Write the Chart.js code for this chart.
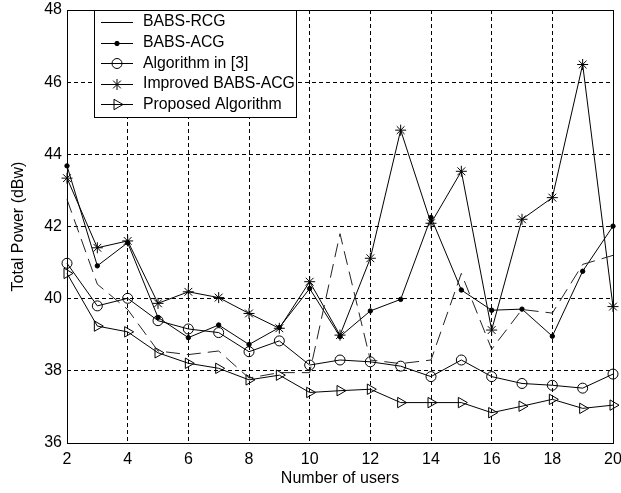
<!doctype html>
<html>
<head>
<meta charset="utf-8">
<script src="https://cdn.jsdelivr.net/npm/chart.js@4.4.1/dist/chart.umd.min.js"></script>
<style>
  body { margin: 0; background: #fff; }
  canvas { display: block; }
</style>
</head>
<body>
<canvas id="chart" width="621" height="493"></canvas>
<script>
// number of users (x axis)
var users = [2, 3, 4, 5, 6, 7, 8, 9, 10, 11, 12, 13, 14, 15, 16, 17, 18, 19, 20];

// total power in dBw
var babsRcg     = [42.75, 40.4, 39.7, 38.55, 38.45, 38.55, 37.8, 37.95, 37.95, 41.8, 38.3, 38.2, 38.3, 40.7, 38.6, 39.7, 39.6, 40.95, 41.2];
var babsAcg     = [43.68, 40.91, 41.55, 39.48, 38.92, 39.27, 38.73, 39.2, 40.28, 38.95, 39.66, 39.98, 42.25, 40.24, 39.68, 39.71, 38.96, 40.76, 42.01];
var algoIn3     = [40.98, 39.8, 40.01, 39.39, 39.16, 39.06, 38.53, 38.83, 38.16, 38.3, 38.25, 38.13, 37.84, 38.3, 37.84, 37.65, 37.6, 37.52, 37.91];
var improvedAcg = [43.34, 41.41, 41.6, 39.87, 40.19, 40.03, 39.59, 39.18, 40.47, 38.99, 41.12, 44.67, 42.09, 43.53, 39.13, 42.2, 42.8, 46.49, 39.78];
var proposed    = [40.7, 39.24, 39.08, 38.5, 38.21, 38.07, 37.75, 37.88, 37.4, 37.45, 37.49, 37.12, 37.12, 37.12, 36.84, 37.02, 37.21, 36.96, 37.05];

var yTicks = [36, 38, 40, 42, 44, 46, 48];
var xTicks = [2, 4, 6, 8, 10, 12, 14, 16, 18, 20];

var FONT = "'Liberation Sans', Arial, sans-serif";

function pts(arr) {
    return users.map(function (u, i) { return { x: u, y: arr[i] }; });
}

function series(label, arr, extra) {
    var ds = {
        label: label,
        data: pts(arr),
        borderColor: '#000',
        backgroundColor: 'rgba(0,0,0,0)',
        borderWidth: 1,
        pointBorderColor: '#000',
        pointBorderWidth: 1,
        pointRadius: 0,
        pointStyle: 'circle',
        pointRotation: 0,
        tension: 0,
        clip: false
    };
    for (var k in extra) ds[k] = extra[k];
    return ds;
}

var datasets = [
    series('BABS-RCG', babsRcg, { borderDash: [14, 7], borderColor: '#222', pointRadius: 0 }),
    series('BABS-ACG', babsAcg, { pointRadius: 2.2, pointBackgroundColor: '#000' }),
    series('Algorithm in [3]', algoIn3, { pointRadius: 5 }),
    series('Improved BABS-ACG', improvedAcg, { pointStyle: 'star', pointRadius: 5.5 }),
    series('Proposed Algorithm', proposed, { pointStyle: 'triangle', pointRotation: 90, pointRadius: 6 })
];

// box around the plot, like matlab
var boxPlugin = {
    id: 'box',
    afterDatasetsDraw: function (chart) {
        var a = chart.chartArea, ctx = chart.ctx;
        ctx.save();
        ctx.strokeStyle = '#000';
        ctx.lineWidth = 1;
        ctx.setLineDash([]);
        ctx.strokeRect(Math.round(a.left) + 0.5, Math.round(a.top) + 0.5,
            Math.round(a.right - a.left), Math.round(a.bottom - a.top));
        ctx.restore();
    }
};

// legend sitting inside the axes, top left
var legendPlugin = {
    id: 'innerLegend',
    afterDraw: function (chart) {
        var ctx = chart.ctx;
        var x0 = 94, y0 = chart.chartArea.top, w = 202, h = 107;
        ctx.save();
        ctx.fillStyle = '#fff';
        ctx.fillRect(x0, y0, w, h);
        ctx.strokeStyle = '#000';
        ctx.lineWidth = 1;
        ctx.strokeRect(x0 + 0.5, Math.round(y0) + 0.5, w, h);
        chart.data.datasets.forEach(function (ds, i) {
            var y = y0 + 12 + i * 20.6;
            ctx.strokeStyle = '#000';
            ctx.lineWidth = 1;
            ctx.setLineDash([]);
            ctx.beginPath();
            ctx.moveTo(101, Math.round(y) + 0.5);
            ctx.lineTo(133, Math.round(y) + 0.5);
            ctx.stroke();
            if (ds.pointRadius > 0) {
                ctx.fillStyle = ds.pointBackgroundColor || 'rgba(0,0,0,0)';
                ctx.strokeStyle = '#000';
                Chart.helpers.drawPoint(ctx, {
                    pointStyle: ds.pointStyle,
                    radius: ds.pointRadius,
                    rotation: ds.pointRotation,
                    borderWidth: 1
                }, 117, Math.round(y) + 0.5);
            }
            ctx.fillStyle = '#000';
            ctx.font = '15.8px ' + FONT;
            ctx.textBaseline = 'middle';
            ctx.textAlign = 'left';
            ctx.fillText(ds.label, 143, y);
        });
        ctx.restore();
    }
};

new Chart(document.getElementById('chart'), {
    type: 'line',
    data: { datasets: datasets },
    plugins: [boxPlugin, legendPlugin],
    options: {
        responsive: false,
        animation: false,
        layout: { padding: { top: 10, left: 0, right: 0, bottom: 0 } },
        plugins: {
            legend: { display: false },
            tooltip: { enabled: false }
        },
        scales: {
            x: {
                type: 'linear',
                min: 2,
                max: 20,
                afterBuildTicks: function (s) { s.ticks = xTicks.map(function (v) { return { value: v }; }); },
                afterFit: function (s) { s.height = 50; s.paddingLeft = 0; s.paddingRight = 8; },
                ticks: { color: '#000', padding: 7, font: { family: FONT, size: 16 } },
                grid: { color: '#000', lineWidth: 1, drawTicks: false },
                border: { display: false, dash: [4, 3] },
                title: {
                    display: true,
                    text: 'Number of users',
                    color: '#000',
                    font: { family: FONT, size: 16 },
                    padding: { top: 0, bottom: 5 }
                }
            },
            y: {
                min: 36,
                max: 48,
                afterBuildTicks: function (s) { s.ticks = yTicks.map(function (v) { return { value: v }; }); },
                afterFit: function (s) { s.width = 67; s.paddingTop = 10; s.paddingBottom = 0; },
                ticks: { color: '#000', padding: 5, font: { family: FONT, size: 16 } },
                grid: { color: '#000', lineWidth: 1, drawTicks: false },
                border: { display: false, dash: [4, 3] },
                title: {
                    display: true,
                    text: 'Total Power (dBw)',
                    color: '#000',
                    font: { family: FONT, size: 16 },
                    padding: { top: 9, bottom: 0 }
                }
            }
        }
    }
});
</script>
</body>
</html>
